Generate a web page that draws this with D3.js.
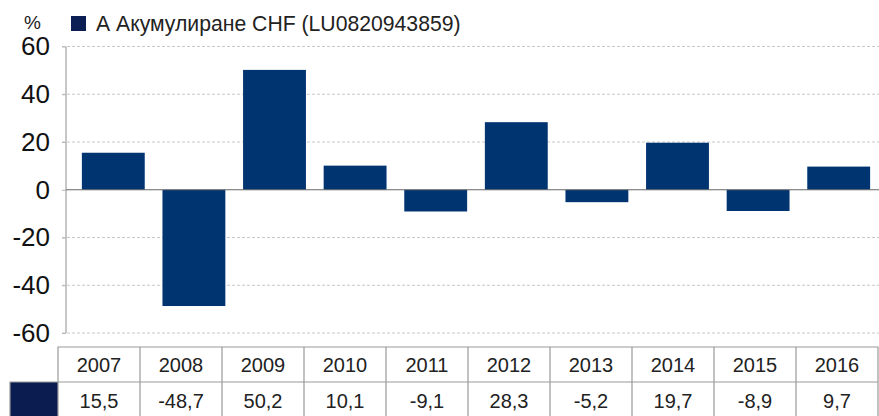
<!DOCTYPE html>
<meta charset=utf-8>
<script src="https://cdn.jsdelivr.net/npm/d3@7"></script>
<style>
body { margin: 0; background: #fff }
svg { font-family: "Liberation Sans", Arial, sans-serif; display: block }
</style>
<body>
<svg id=chart width=879 height=416></svg>
<script>
const years = ["2007","2008","2009","2010","2011","2012","2013","2014","2015","2016"];
const values = [15.5, -48.7, 50.2, 10.1, -9.1, 28.3, -5.2, 19.7, -8.9, 9.7];
const yTicks = [60, 40, 20, 0, -20, -40, -60];
const seriesName = "А Акумулиране CHF (LU0820943859)";

const svg = d3.select("#chart");
const fmt = v => String(v).replace(".", ",");

// scales
const x = d3.scaleBand().domain(years).range([73, 879]).paddingInner(0.22).paddingOuter(0.11);
const y = d3.scaleLinear().domain([-60, 60]).range([333, 46.5]);

// grid
svg.append("g")
	.selectAll("line")
	.data(yTicks.filter(t => t !== 0))
	.join("line")
		.attr("x1", 62).attr("x2", 879)
		.attr("y1", d => y(d)).attr("y2", d => y(d))
		.attr("stroke", "#c8c8c8")
		.attr("stroke-dasharray", "3,2");

// y axis
svg.append("g")
	.attr("transform", "translate(66,0)")
	.call(d3.axisLeft(y).tickValues(yTicks).tickFormat(d => String(d)).tickSize(4).tickPadding(12))
	.call(g => g.select(".domain").attr("stroke", "#b5b5b5").attr("stroke-width", 1.5).attr("d", `M0,${y(60)}V${y(-60)}`))
	.call(g => g.selectAll(".tick line").attr("stroke", "#b5b5b5"))
	.call(g => g.selectAll(".tick text").attr("font-size", 26).attr("fill", "#111").attr("font-family", "Liberation Sans, Arial, sans-serif"));

// bars
svg.append("g")
	.selectAll("rect")
	.data(values)
	.join("rect")
		.attr("x", (d, i) => x(years[i]))
		.attr("width", x.bandwidth())
		.attr("y", d => y(Math.max(0, d)))
		.attr("height", d => Math.abs(y(d) - y(0)))
		.attr("fill", "#003471");

// zero line
svg.append("line")
	.attr("x1", 66).attr("x2", 879)
	.attr("y1", y(0)).attr("y2", y(0))
	.attr("stroke", "#666").attr("stroke-width", 1.2);

// legend
svg.append("text").attr("x", 24).attr("y", 29).attr("font-size", 19).attr("fill", "#222").text("%");
svg.append("rect").attr("x", 71).attr("y", 16).attr("width", 15).attr("height", 15).attr("fill", "#0b1f55");
svg.append("text").attr("x", 96).attr("y", 31).attr("font-size", 21.2).attr("fill", "#222").text(seriesName);

// table
const tx = d3.scaleBand().domain(years).range([58, 878]);
const row1 = 347, row2 = 382, row3 = 418;
const tbl = svg.append("g");
tbl.append("rect").attr("x", 10).attr("y", row2).attr("width", 48).attr("height", row3 - row2).attr("fill", "#0b1c50");
tbl.selectAll(".hdr")
	.data(years)
	.join("text")
		.attr("x", d => tx(d) + tx.bandwidth() / 2)
		.attr("y", (row1 + row2) / 2 + 7)
		.attr("text-anchor", "middle")
		.attr("font-size", 20).attr("fill", "#222")
		.text(d => d);
tbl.selectAll(".val")
	.data(values)
	.join("text")
		.attr("x", (d, i) => tx(years[i]) + tx.bandwidth() / 2)
		.attr("y", row2 + 26)
		.attr("text-anchor", "middle")
		.attr("font-size", 20).attr("fill", "#222")
		.text(fmt);
// borders
const bc = "#9a9a9a";
tbl.append("path")
	.attr("fill", "none").attr("stroke", bc).attr("stroke-width", 1.2)
	.attr("d", `M58,${row3}V${row1}H878V${row3}M10,${row3}V${row2}H878`
		+ years.slice(1).map(d => `M${tx(d)},${row1}V${row3}`).join(""));
</script>
</body>
